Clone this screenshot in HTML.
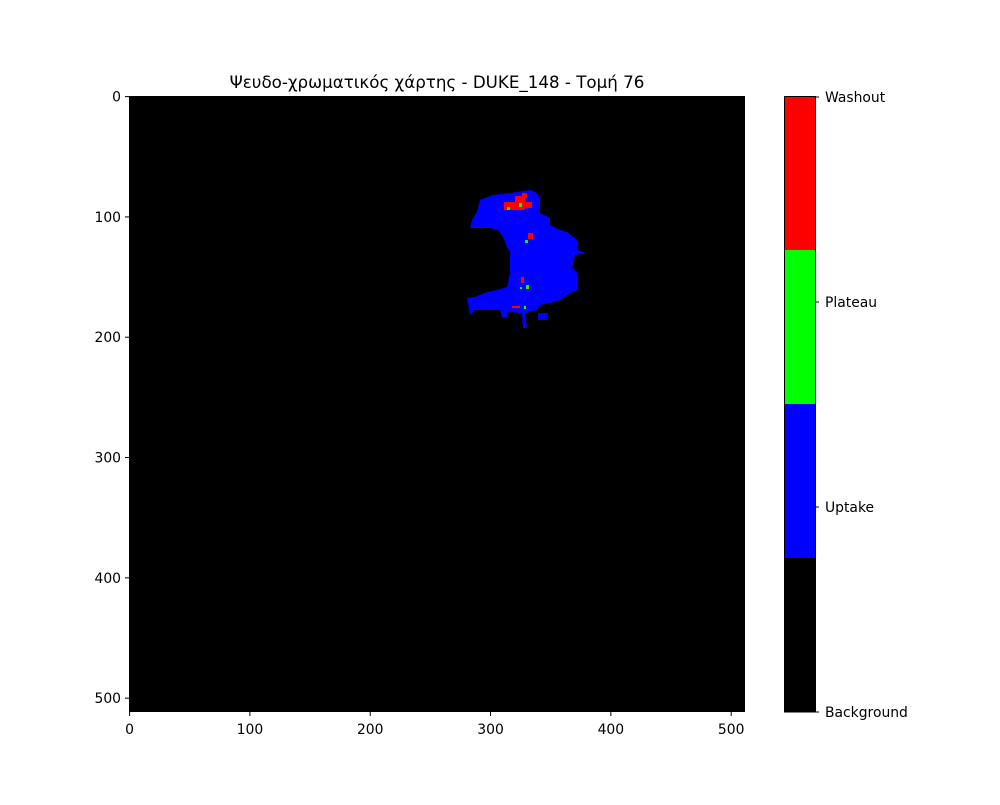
<!DOCTYPE html>
<html><head><meta charset="utf-8"><style>
body{margin:0;background:#fff}
svg text{font-family:"DejaVu Sans","Liberation Sans",sans-serif;font-size:13.9px;fill:#000}
</style></head><body>
<svg width="1000" height="800" viewBox="0 0 1000 800">
<text x="437" y="88" text-anchor="middle" style="font-size:16.7px">Ψευδο-χρωματικός χάρτης - DUKE_148 - Τομή 76</text>
<rect x="129" y="96" width="616" height="616" fill="#000"/>
<g>
<polygon fill="#0000ff" points="493,195 510,193 530,190 537,193 540,198 540,213 550,218 550,225 560,230 567,232 577,240 578,250 585,253 575,255 572,267 577,273 578,290 570,293 560,300 550,303 540,305 537,310 525,313 527,328 523,328 522,313 507,312 507,317 502,317 500,310 475,310 470,315 468,303 467,298 475,297 487,292 497,290 507,287 510,273 510,252 507,247 503,237 498,230 490,228 470,228 472,220 477,212 480,200"/>
<rect x="538" y="313" width="9" height="7" fill="#0000ff"/>
<g fill="#ff0000">
<rect x="504" y="202" width="12" height="8"/><rect x="515" y="196" width="10" height="14"/><rect x="522" y="193" width="5" height="5"/><rect x="526" y="202" width="6" height="6"/>
<rect x="528" y="233" width="5" height="6"/><rect x="521" y="277" width="3" height="6"/><rect x="512" y="306" width="8" height="2"/>
</g>
<g fill="#00ff00">
<rect x="507" y="207" width="3" height="3"/><rect x="519" y="203" width="3" height="4"/><rect x="525" y="240" width="3" height="3"/><rect x="526" y="285" width="3" height="4"/><rect x="520" y="287" width="2" height="2"/><rect x="524" y="306" width="2" height="3"/>
</g>
</g>
<g>
<rect x="784" y="96" width="31" height="154" fill="#ff0000"/>
<rect x="784" y="250" width="31" height="154" fill="#00ff00"/>
<rect x="784" y="404" width="31" height="154" fill="#0000ff"/>
<rect x="784" y="558" width="31" height="154" fill="#000"/>
<rect x="784.5" y="96.5" width="31" height="615.5" fill="none" stroke="#000"/>
<g stroke="#000"><line x1="815" y1="97" x2="819" y2="97"/><line x1="815" y1="302" x2="819" y2="302"/><line x1="815" y1="507" x2="819" y2="507"/><line x1="815" y1="712" x2="819" y2="712"/></g>
<text x="825" y="102">Washout</text>
<text x="825" y="307">Plateau</text>
<text x="825" y="512">Uptake</text>
<text x="825" y="717">Background</text>
</g>
</svg>
<script>
const xTicks=[0,100,200,300,400,500];
const yTicks=[0,100,200,300,400,500];
const s=616/512;
const xs=v=>129+(v+0.5)*s, ys=v=>96+(v+0.5)*s;
const svg=document.querySelector('svg'),NS='http://www.w3.org/2000/svg';
function mk(t,a){const e=document.createElementNS(NS,t);for(const k in a)e.setAttribute(k,a[k]);svg.appendChild(e);return e;}
xTicks.forEach(v=>{const x=xs(v);
const l=mk('line',{x1:x,x2:x,y1:712,y2:716,stroke:'#000'});


const t=mk('text',{x:x,y:734,'text-anchor':'middle'});t.textContent=v;

});
yTicks.forEach(v=>{const y=ys(v);
const l=mk('line',{x1:125,x2:129,y1:y,y2:y,stroke:'#000'});


const t=mk('text',{x:121,y:y+5,'text-anchor':'end'});t.textContent=v;

});
</script>
</body></html>
